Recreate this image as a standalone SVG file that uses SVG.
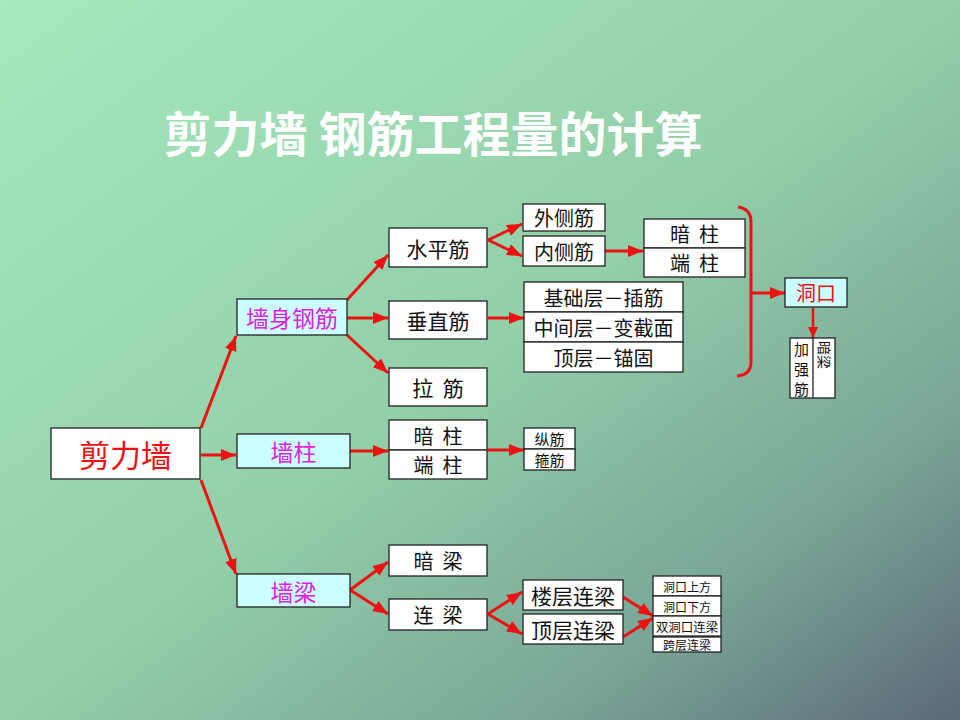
<svg xmlns="http://www.w3.org/2000/svg" width="960" height="720" viewBox="0 0 960 720">
<defs>
<linearGradient id="bg" x1="0" y1="0" x2="1" y2="1">
<stop offset="0" stop-color="#a5e9bd"/>
<stop offset="0.5" stop-color="#93cfa9"/>
<stop offset="0.78" stop-color="#7aa697"/>
<stop offset="1" stop-color="#5b6979"/>
</linearGradient>
<marker id="ah" markerUnits="userSpaceOnUse" markerWidth="16" markerHeight="12" refX="15" refY="6" orient="auto">
<path d="M0,0 L15,6 L0,12 z" fill="#ee1111"/>
</marker>
<marker id="ahs" markerUnits="userSpaceOnUse" markerWidth="12" markerHeight="10" refX="11" refY="5" orient="auto">
<path d="M0,0 L11,5 L0,10 z" fill="#ee1111"/>
</marker>
<style>
.b{fill:#ffffff;stroke:#222;stroke-width:1.3}
.c{fill:#ccffff;stroke:#222;stroke-width:1.3}
.t{font-family:"Noto Sans CJK SC","Noto Sans",sans-serif;fill:#111;text-anchor:middle;dominant-baseline:central}
.m{fill:#e020e0}
.r{fill:#ee1111}
.a{stroke:#ee1111;stroke-width:3;fill:none;marker-end:url(#ah)}
.as{stroke:#ee1111;stroke-width:2.5;fill:none;marker-end:url(#ahs)}
</style>
</defs>
<rect width="960" height="720" fill="url(#bg)"/>
<text x="433" y="131" font-family="'Noto Sans CJK SC',sans-serif" font-weight="bold" font-size="48" fill="#ffffff" text-anchor="middle" dominant-baseline="central">剪力墙 钢筋工程量的计算</text>

<g id="connectors">
<line class="a" x1="201" y1="428" x2="236" y2="336"/>
<line class="a" x1="201" y1="455" x2="236" y2="455"/>
<line class="a" x1="201" y1="480" x2="236" y2="574"/>
<line class="a" x1="347" y1="300" x2="388" y2="255"/>
<line class="a" x1="347" y1="318" x2="388" y2="318"/>
<line class="a" x1="347" y1="335" x2="388" y2="373"/>
<line class="a" x1="350" y1="451" x2="388" y2="451"/>
<line class="a" x1="350" y1="590" x2="388" y2="562"/>
<line class="a" x1="350" y1="590" x2="388" y2="614"/>
<line class="a" x1="488" y1="240" x2="522" y2="224"/>
<line class="a" x1="488" y1="240" x2="522" y2="256"/>
<line class="a" x1="605" y1="251" x2="643" y2="251"/>
<line class="a" x1="488" y1="318" x2="524" y2="318"/>
<line class="a" x1="488" y1="450" x2="524" y2="450"/>
<line class="a" x1="488" y1="614" x2="522" y2="592"/>
<line class="a" x1="488" y1="614" x2="522" y2="634"/>
<line class="a" x1="623" y1="597" x2="653" y2="616"/>
<line class="a" x1="623" y1="637" x2="653" y2="618"/>
<path d="M738,207 Q751,209 751,222 L751,362 Q751,375 737,376" fill="none" stroke="#ee1111" stroke-width="3"/>
<line class="a" x1="751" y1="293" x2="785" y2="293"/>
<line class="as" x1="813" y1="308" x2="813" y2="338"/>
</g>

<g id="n-jlq"><rect class="b" x="51" y="428" width="149" height="51"/><text class="t r" x="125.5" y="453.5" font-size="31">剪力墙</text></g>
<g id="n-qsgj"><rect class="c" x="237" y="299" width="110" height="36"/><text class="t m" x="292" y="317" font-size="23">墙身钢筋</text></g>
<g id="n-qz"><rect class="c" x="237" y="434" width="113" height="34"/><text class="t m" x="293.5" y="451" font-size="23">墙柱</text></g>
<g id="n-ql"><rect class="c" x="237" y="574" width="113" height="33"/><text class="t m" x="293.5" y="590.5" font-size="23">墙梁</text></g>

<g id="n-spj"><rect class="b" x="389" y="228" width="98" height="39"/><text class="t" x="438" y="247.5" font-size="21">水平筋</text></g>
<g id="n-czj"><rect class="b" x="389" y="301" width="98" height="38"/><text class="t" x="438" y="320" font-size="21">垂直筋</text></g>
<g id="n-lj"><rect class="b" x="389" y="368" width="98" height="38"/><text class="t" x="438" y="387" font-size="21">拉&#160;&#160;筋</text></g>
<g id="n-azdz1"><rect class="b" x="389" y="420" width="98" height="30"/><text class="t" x="438" y="435" font-size="20">暗&#160;&#160;柱</text><rect class="b" x="389" y="450" width="98" height="29"/><text class="t" x="438" y="464.5" font-size="20">端&#160;&#160;柱</text></g>
<g id="n-al"><rect class="b" x="389" y="545" width="98" height="31"/><text class="t" x="438" y="560.5" font-size="20">暗&#160;&#160;梁</text></g>
<g id="n-ll"><rect class="b" x="389" y="599" width="98" height="31"/><text class="t" x="438" y="614.5" font-size="20">连&#160;&#160;梁</text></g>

<g id="n-wcj"><rect class="b" x="523" y="204" width="82" height="27"/><text class="t" x="564" y="217.5" font-size="20">外侧筋</text></g>
<g id="n-ncj"><rect class="b" x="523" y="236" width="82" height="30"/><text class="t" x="564" y="251" font-size="20">内侧筋</text></g>
<g id="n-azdz2"><rect class="b" x="644" y="219" width="101" height="29"/><text class="t" x="694.5" y="233.5" font-size="20">暗&#160;&#160;柱</text><rect class="b" x="644" y="248" width="101" height="29"/><text class="t" x="694.5" y="262.5" font-size="20">端&#160;&#160;柱</text></g>
<g id="n-czlist"><rect class="b" x="524" y="282" width="159" height="30"/><text class="t" x="603.5" y="297" font-size="20">基础层－插筋</text><rect class="b" x="524" y="312" width="159" height="30"/><text class="t" x="603.5" y="327" font-size="20">中间层－变截面</text><rect class="b" x="524" y="342" width="159" height="30"/><text class="t" x="603.5" y="357" font-size="20">顶层－锚固</text></g>
<g id="n-zjgj"><rect class="b" x="524" y="428" width="51" height="21"/><text class="t" x="549.5" y="438.5" font-size="15">纵筋</text><rect class="b" x="524" y="449" width="51" height="21"/><text class="t" x="549.5" y="459.5" font-size="15">箍筋</text></g>
<g id="n-lcll"><rect class="b" x="523" y="580" width="100" height="30"/><text class="t" x="573" y="595" font-size="21">楼层连梁</text></g>
<g id="n-dcll"><rect class="b" x="523" y="614" width="100" height="30"/><text class="t" x="573" y="629" font-size="21">顶层连梁</text></g>
<g id="n-lllist"><rect class="b" x="653" y="576" width="68" height="20"/><text class="t" x="687" y="586" font-size="12">洞口上方</text><rect class="b" x="653" y="596" width="68" height="20"/><text class="t" x="687" y="606" font-size="12">洞口下方</text><rect class="b" x="653" y="616" width="68" height="20"/><text class="t" x="687" y="626" font-size="12.5">双洞口连梁</text><rect class="b" x="653" y="637" width="68" height="15"/><text class="t" x="687" y="644.5" font-size="12">跨层连梁</text></g>
<g id="n-dk"><rect class="c" x="785" y="278" width="62" height="29"/><text class="t r" x="816" y="292.5" font-size="20">洞口</text></g>
<g id="n-jqj"><rect class="b" x="790" y="338" width="45" height="60"/><line x1="813" y1="338" x2="813" y2="398" stroke="#222" stroke-width="1.3"/><text class="t" x="801.5" y="348" font-size="15">加</text><text class="t" x="801.5" y="368" font-size="15">强</text><text class="t" x="801.5" y="388" font-size="15">筋</text><text class="t" transform="translate(825,355) rotate(90)" x="0" y="0" font-size="14">暗梁</text></g>
</svg>
